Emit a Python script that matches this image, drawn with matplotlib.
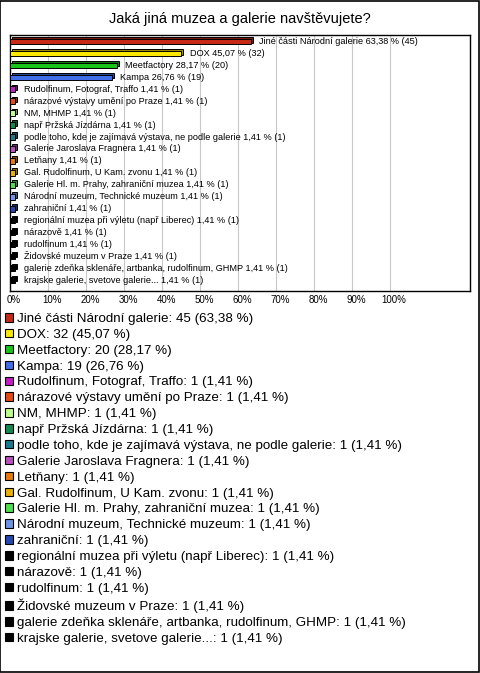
import matplotlib
matplotlib.use("Agg")
import matplotlib.pyplot as plt
import matplotlib.transforms as mtransforms
from matplotlib.patches import Patch, Rectangle
import numpy as np

plt.rcParams['font.family'] = ['Liberation Sans', 'DejaVu Sans']

# data
names = [
    "Jiné části Národní galerie",
    "DOX",
    "Meetfactory",
    "Kampa",
    "Rudolfinum, Fotograf, Traffo",
    "nárazové výstavy umění po Praze",
    "NM, MHMP",
    "např Pržská Jízdárna",
    "podle toho, kde je zajímavá výstava, ne podle galerie",
    "Galerie Jaroslava Fragnera",
    "Letňany",
    "Gal. Rudolfinum, U Kam. zvonu",
    "Galerie Hl. m. Prahy, zahraniční muzea",
    "Národní muzeum, Technické muzeum",
    "zahraniční",
    "regionální muzea při výletu (např Liberec)",
    "nárazově",
    "rudolfinum",
    "Židovské muzeum v Praze",
    "galerie zdeňka sklenáře, artbanka, rudolfinum, GHMP",
    "krajske galerie, svetove galerie...",
]
counts = [45, 32, 20, 19] + [1] * 17
percents = [63.38, 45.07, 28.17, 26.76] + [1.41] * 17
colors = ['#C62A17', '#FFE800', '#17C417', '#3F6FE8', '#C41BC4', '#E64A12',
          '#BDFF8C', '#138A4E', '#1B7A8E', '#B94FBF', '#E8780C', '#E8B000',
          '#4CE04C', '#6D94E6', '#2346B0'] + ['#000000'] * 6
x_ticks = [0, 10, 20, 30, 40, 50, 60, 70, 80, 90, 100]


def fmt(p):
    # czech decimal comma
    return f"{p:.2f}".replace('.', ',')


fig = plt.figure(figsize=(4.8, 6.73), dpi=100)
ax = fig.add_axes([10 / 480, 1 - 291 / 673, 460 / 480, 256 / 673])

y = np.arange(len(names))
dark = [tuple(c * 0.6 for c in matplotlib.colors.to_rgb(col)) for col in colors]

# 3D-ish shadow bars, then the front bars
shadow = mtransforms.offset_copy(ax.transData, fig=fig, x=1.3, y=1.3, units='points')
ax.barh(y, percents, height=0.48, color=dark, edgecolor='black', linewidth=0.7,
        transform=shadow, zorder=2)
ax.barh(y, percents, height=0.48, color=colors, edgecolor='black', linewidth=0.7, zorder=3)

for i in range(len(names)):
    lbl = f"{names[i]} {fmt(percents[i])} % ({counts[i]})"
    ax.text(percents[i] + 2.2, y[i], lbl, fontsize=6.6, va='center', ha='left', zorder=4)

ax.set_xlim(0, 121)
ax.set_ylim(20.9, -0.55)
ax.set_yticks([])
ax.set_xticks(x_ticks)
ax.set_xticklabels([f"{t}%" for t in x_ticks], fontsize=7)
ax.tick_params(axis='x', length=0, pad=3)
for lab in ax.get_xticklabels():
    lab.set_transform(lab.get_transform() + mtransforms.ScaledTranslation(4 / 100, 0, fig.dpi_scale_trans))
for t in x_ticks[1:]:
    ax.axvline(t, color='#c8c8c8', linewidth=0.8, zorder=1)
for s in ax.spines.values():
    s.set_linewidth(1.0)

fig.suptitle("Jaká jiná muzea a galerie navštěvujete?", fontsize=10.5, y=1 - 12 / 673, va='top')

handles = [Patch(facecolor=c, edgecolor='black', linewidth=0.8) for c in colors]
labels = [f"{n}: {c} ({fmt(p)} %)" for n, c, p in zip(names, counts, percents)]
fig.legend(handles, labels, loc='upper left', bbox_to_anchor=(5 / 480, 1 - 313 / 673),
           frameon=False, fontsize=9.6, handlelength=0.6, handleheight=0.6,
           handletextpad=0.3, labelspacing=0.29, borderpad=0, borderaxespad=0)

fig.patches.append(Rectangle((0.001, 0.001), 0.997, 0.997, transform=fig.transFigure,
                             fill=False, edgecolor='black', linewidth=1.2))

plt.savefig('out.png', dpi=100)
